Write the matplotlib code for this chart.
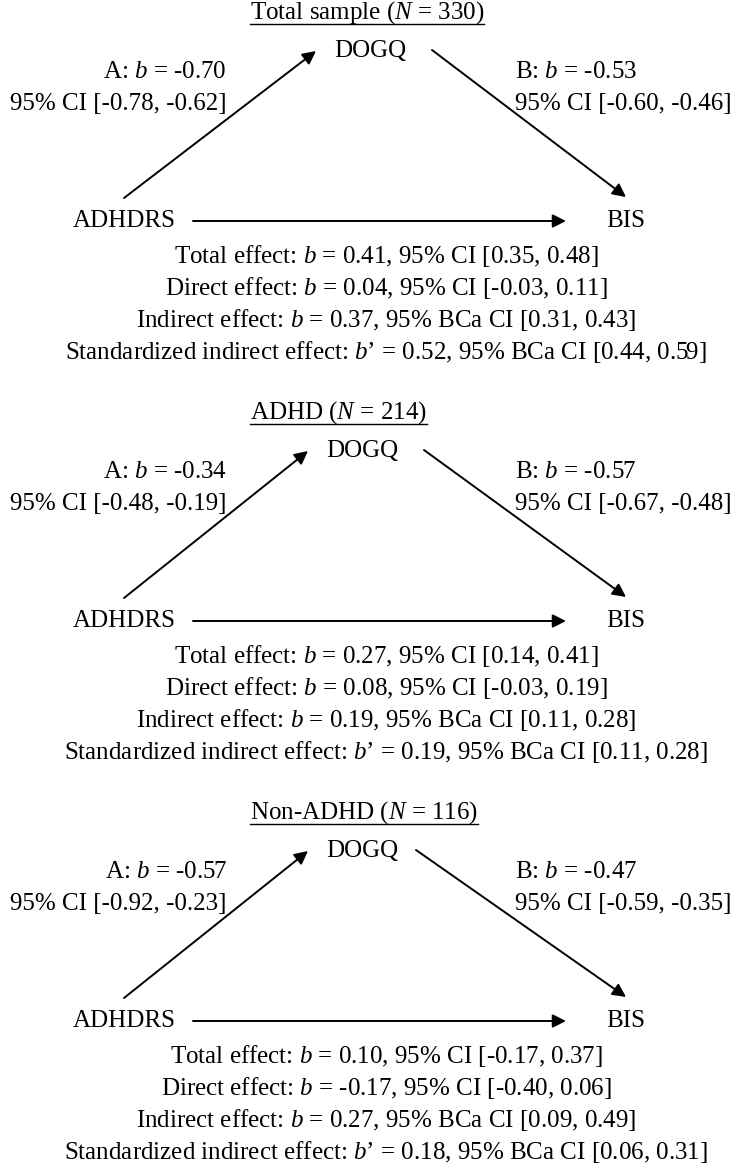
import matplotlib
matplotlib.use("Agg")
import matplotlib.pyplot as plt

plt.rcParams["font.family"] = ["Liberation Serif", "DejaVu Serif"]
plt.rcParams["mathtext.fontset"] = "custom"
plt.rcParams["mathtext.rm"] = "Liberation Serif"
plt.rcParams["mathtext.it"] = "Liberation Serif:italic"

# values
groups = ["Total sample", "ADHD", "Non-ADHD"]
n_sizes = [330, 214, 116]
a_b = [-0.70, -0.34, -0.57]
a_ci = [(-0.78, -0.62), (-0.48, -0.19), (-0.92, -0.23)]
b_b = [-0.53, -0.57, -0.47]
b_ci = [(-0.60, -0.46), (-0.67, -0.48), (-0.59, -0.35)]
total_b = [0.41, 0.27, 0.10]
total_ci = [(0.35, 0.48), (0.14, 0.41), (-0.17, 0.37)]
direct_b = [0.04, 0.08, -0.17]
direct_ci = [(-0.03, 0.11), (-0.03, 0.19), (-0.40, 0.06)]
indirect_b = [0.37, 0.19, 0.27]
indirect_ci = [(0.31, 0.43), (0.11, 0.28), (0.09, 0.49)]
std_b = [0.52, 0.19, 0.18]
std_ci = [(0.44, 0.59), (0.11, 0.28), (0.06, 0.31)]

W, H = 735, 1165
FS = 18

fig = plt.figure(figsize=(W / 100, H / 100), dpi=100)
ax = fig.add_axes([0, 0, 1, 1])
ax.set_xlim(0, W)
ax.set_ylim(H, 0)
ax.axis("off")


def f(v):
    return f"{v:.2f}"


def ci(pair):
    return f"[{f(pair[0])}, {f(pair[1])}]"


def arrow(x0, y0, x1, y1):
    ax.annotate("", xy=(x1, y1), xytext=(x0, y0),
                arrowprops=dict(arrowstyle="-|>", lw=1.4, color="black",
                                mutation_scale=20, shrinkA=0, shrinkB=0))


titles = []
dogq_x = [370, 362, 362]
for i, g in enumerate(groups):
    y0 = 400 * i
    t = ax.text(250, y0 + 13, f"{g} ($N$ = {n_sizes[i]})", fontsize=FS,
                ha="left", va="center")
    titles.append((t, y0 + 24))

    ax.text(dogq_x[i], y0 + 51, "DOGQ", fontsize=FS, ha="center", va="center")
    ax.text(124, y0 + 221, "ADHDRS", fontsize=FS, ha="center", va="center")
    ax.text(626, y0 + 221, "BIS", fontsize=FS, ha="center", va="center")

    ax.text(227, y0 + 72, f"A: $b$ = {f(a_b[i])}", fontsize=FS, ha="right", va="center")
    ax.text(227, y0 + 104, f"95% CI {ci(a_ci[i])}", fontsize=FS, ha="right", va="center")
    ax.text(515, y0 + 72, f"B: $b$ = {f(b_b[i])}", fontsize=FS, ha="left", va="center")
    ax.text(515, y0 + 104, f"95% CI {ci(b_ci[i])}", fontsize=FS, ha="left", va="center")

    arrow(124, y0 + 198, dogq_x[i] - 54, y0 + 51)
    arrow(dogq_x[i] + 62 - (8 if i == 2 else 0), y0 + 50, 626, y0 + 197)
    arrow(193, y0 + 221, 566, y0 + 221)

    lines = [
        f"Total effect: $b$ = {f(total_b[i])}, 95% CI {ci(total_ci[i])}",
        f"Direct effect: $b$ = {f(direct_b[i])}, 95% CI {ci(direct_ci[i])}",
        f"Indirect effect: $b$ = {f(indirect_b[i])}, 95% BCa CI {ci(indirect_ci[i])}",
        f"Standardized indirect effect: $b$’ = {f(std_b[i])}, 95% BCa CI {ci(std_ci[i])}",
    ]
    for k, s in enumerate(lines):
        ax.text(386, y0 + 256 + 32 * k, s, fontsize=FS, ha="center", va="center")

# underline the panel titles
fig.canvas.draw()
renderer = fig.canvas.get_renderer()
inv = ax.transData.inverted()
for t, uy in titles:
    bb = t.get_window_extent(renderer)
    (xa, _), (xb, _) = inv.transform([(bb.x0, bb.y0), (bb.x1, bb.y1)])
    ax.plot([xa, xb], [uy, uy], color="black", lw=1.0)

fig.savefig("out.png", dpi=100)
